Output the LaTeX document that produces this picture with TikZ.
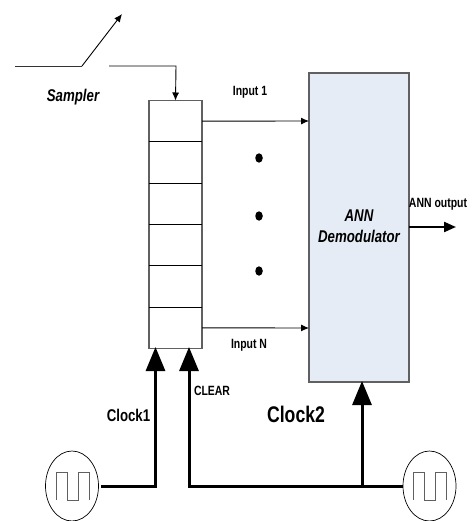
\documentclass[tikz,border=0pt]{standalone}
\usepackage{fontspec}
\setmainfont[FakeStretch=0.78]{Liberation Sans}
\usetikzlibrary{arrows.meta,shapes.geometric}
\definecolor{boxgray}{HTML}{606060}
\definecolor{demofill}{HTML}{E6ECF6}
\tikzset{
  x=1pt,y=-1pt,
  thinwire/.style={draw=black,line width=0.9pt,-{Latex[length=8pt,width=7pt]}},
  plainwire/.style={draw=black!80,line width=0.9pt},
  thickwire/.style={draw=black,line width=3pt,line join=miter},
  thickarrow/.style={thickwire,-{Triangle[length=24pt,width=19pt]},shorten >=-1pt},
  regcell/.style={draw=boxgray,line width=1.2pt,minimum width=53pt,minimum height=41.33pt,inner sep=0pt,outer sep=0pt,anchor=north west},
  sep/.style={draw=black,line width=0.9pt},
  demobox/.style={draw=boxgray,fill=demofill,line width=1.1pt,minimum width=100pt,minimum height=309pt,inner sep=0pt,outer sep=0pt,anchor=north west},
  gen/.style={draw=black,line width=0.7pt,ellipse,minimum width=53pt,minimum height=70pt,inner sep=0pt,outer sep=0pt},
  pulse/.style={draw=boxgray,line width=1pt},
  dotnode/.style={ellipse,fill=black,minimum width=7.5pt,minimum height=9.5pt,inner sep=0pt},
  lab/.style={font=\bfseries\fontsize{13.4}{15}\selectfont,inner sep=0pt},
  itlab/.style={font=\bfseries\itshape\fontsize{17}{21}\selectfont,inner sep=0pt,align=center},
}
\begin{document}
\begin{tikzpicture}
\useasboundingbox (0,0) rectangle (472,521);
% sampler
\coordinate (s0) at (15,66);
\coordinate (s1) at (82,66);
\coordinate (s2) at (122,14);
\coordinate (s3) at (109,66);
\coordinate (s4) at (176,66);
\draw[plainwire] (s0) -- (s1);
\draw[thinwire] (s1) -- (s2);
% register
\node[regcell] (r1) at (149,100.5) {};
\node[regcell] (r2) at (149,141.83) {};
\node[regcell] (r3) at (149,183.17) {};
\node[regcell] (r4) at (149,224.5) {};
\node[regcell] (r5) at (149,265.83) {};
\node[regcell] (r6) at (149,307.17) {};
\foreach \c in {r2,r3,r4,r5,r6} \draw[sep] (\c.north west) -- (\c.north east);
\draw[thinwire] (s3) -- (s4) -- (r1.north);
% demodulator
\node[demobox] (demo) at (309,73) {};
\node[itlab] (demotext) at (359,226.5) {ANN\\Demodulator};
% inputs
\coordinate (i1) at (309,121);
\coordinate (iN) at (309,328);
\draw[thinwire] (r1.east) -- (i1);
\draw[thinwire] (r6.east) -- (iN);
\node[lab] (l1) at (250,92) {Input 1};
\node[lab] (lN) at (249,345) {Input N};
\node[dotnode] (d1) at (259,158) {};
\node[dotnode] (d2) at (259,216) {};
\node[dotnode] (d3) at (259,271) {};
% output
\coordinate (o1) at (456,227);
\draw[draw=black,line width=2.2pt,-{Triangle[length=12pt,width=10pt]}] (409,227) -- (o1);
\node[lab] (lo) at (438,204) {ANN output};
% generators
\node[gen] (g1) at (72,486) {};
\node[gen] (g2) at (429.5,486) {};
\draw[pulse] (56,500) -- (56,472) -- (67,472) -- (67,500) -- (78,500) -- (78,472) -- (89,472) -- (89,500);
\draw[pulse] (413,500) -- (413,472) -- (424,472) -- (424,500) -- (435,500) -- (435,472) -- (446,472) -- (446,500);
% thick wires
\coordinate (t1) at (155.5,348);
\coordinate (t2) at (189,348);
\coordinate (j) at (362,486);
\draw[thickarrow] (101,486) -| (t1);
\draw[thickarrow] (g2.west) -- (j) -- (189,486) -- (t2);
\draw[thickarrow] (j) -- (362,382);
% labels
\node[itlab] (ls) at (73,97) {Sampler};
\node[lab] (lc) at (212,391) {CLEAR};
\node[lab,font=\bfseries\fontsize{17}{20}\selectfont] (lc1) at (128.5,415) {Clock1};
\node[lab,font=\bfseries\fontsize{22.6}{26}\selectfont] (lc2) at (296,414) {Clock2};
\end{tikzpicture}
\end{document}
